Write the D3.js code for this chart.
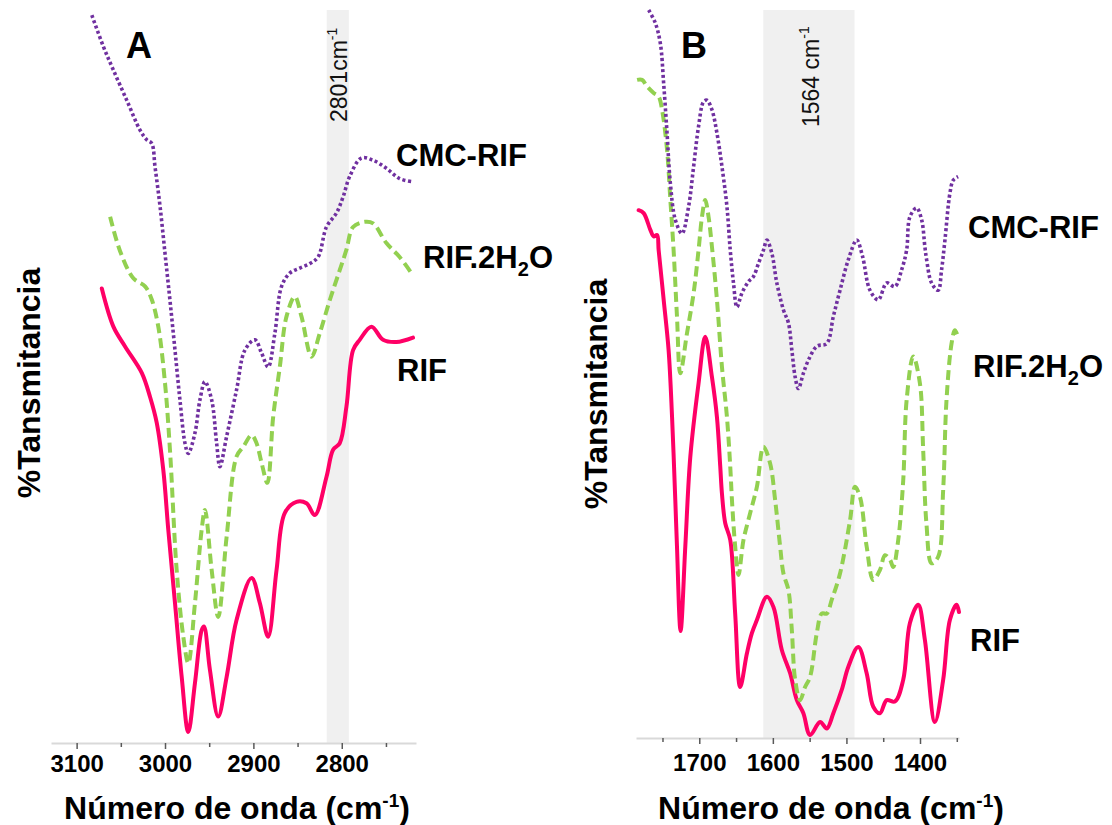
<!DOCTYPE html>
<html><head><meta charset="utf-8">
<script src="https://cdn.jsdelivr.net/npm/d3@7"></script>
<style>body{margin:0;background:#fff} svg{display:block} text{font-family:"Liberation Sans",Arial,sans-serif}</style>
</head><body><svg id="c" width="1112" height="825"></svg>
<script>
// ---------- Panel A (C-H region) ----------
const wnA_RIF = [3071.5,3058.4,3045.2,3026.3,3016.9,3009.4,3001.9,2996.3,2988.7,2981.1,2973.7,2966.1,2958.5,2955.9,2949.2,2939.8,2930.3,2919.0,2902.0,2892.7,2883.3,2873.8,2864.4,2851.2,2839.9,2830.5,2817.3,2809.8,2802.3,2794.7,2787.2,2779.7,2766.4,2753.3,2738.2,2719.4];
const tA_RIF = [62.0,56.8,54.1,50.5,47.2,43.7,37.2,29.1,19.1,9.0,1.5,8.2,15.4,15.9,10.0,3.6,9.0,16.8,22.5,19.1,14.5,23.6,31.4,32.9,32.7,31.1,36.3,40.0,40.9,45.9,53.6,55.0,56.8,55.0,54.7,55.3];
const wnA_H2O = [3062.1,3050.8,3035.8,3022.6,3015.0,3007.6,3000.0,2994.4,2986.8,2979.3,2973.7,2966.1,2958.5,2954.8,2947.2,2939.8,2930.3,2919.0,2911.5,2902.0,2896.4,2890.7,2884.2,2877.6,2870.1,2862.5,2853.1,2845.6,2834.2,2824.9,2813.6,2802.3,2794.7,2787.2,2774.0,2764.6,2749.5,2734.5,2719.4];
const tA_H2O = [71.8,67.1,63.4,62.3,60.5,56.8,49.1,40.0,23.6,14.5,10.9,19.1,29.1,31.8,23.6,17.2,28.1,39.1,40.4,42.0,40.9,38.2,35.5,44.5,51.3,58.2,60.9,58.2,52.7,55.9,60.4,64.5,67.3,70.4,71.1,70.9,68.2,66.3,63.8];
const wnA_CMC = [3082.8,3069.7,3058.4,3043.3,3028.2,3020.7,3015.0,3011.3,3005.6,3000.0,2994.4,2988.7,2983.1,2977.4,2973.7,2966.1,2960.5,2954.8,2947.2,2941.6,2937.9,2930.3,2919.0,2909.6,2898.3,2890.7,2883.3,2875.7,2868.1,2858.8,2847.5,2836.2,2826.8,2817.3,2806.0,2798.5,2791.0,2777.8,2764.6,2749.5,2734.5,2721.2];
const tA_CMC = [99.3,95.0,91.8,87.7,83.6,82.3,81.8,78.6,73.2,66.8,60.4,53.6,46.8,40.9,39.5,42.3,46.8,49.3,46.8,40.9,37.7,41.8,48.2,53.6,55.0,53.2,51.3,55.9,62.3,64.1,64.8,65.4,66.3,70.4,72.3,74.5,77.3,79.8,79.5,78.4,77.0,76.6];
const ticksA = [3100,3000,2900,2800];
const minorA = [3050,2950,2850,2750];
const bandA = [2817,2792];

// ---------- Panel B (fingerprint region) ----------
const wnB_RIF = [1782.4,1775.6,1766.5,1762.0,1757.4,1755.2,1748.4,1741.7,1737.0,1732.6,1730.3,1725.4,1719.0,1712.2,1701.0,1691.9,1682.8,1676.0,1671.5,1669.2,1664.7,1657.9,1651.2,1644.4,1635.3,1628.5,1621.7,1608.1,1599.2,1587.8,1576.5,1567.4,1558.5,1549.4,1535.8,1526.7,1517.8,1506.4,1497.4,1483.9,1472.5,1463.5,1454.4,1445.3,1434.1,1422.8,1413.7,1402.4,1393.4,1379.8,1368.5,1359.4,1350.3,1347.0];
const tB_RIF = [72.5,72.1,69.8,68.9,69.1,67.0,60.2,53.3,44.1,32.7,26.3,14.7,26.3,38.6,48.7,55.1,49.6,44.1,37.3,33.6,29.5,27.2,17.1,7.0,11.6,14.4,16.2,19.4,18.0,12.1,8.9,5.2,3.4,0.4,2.2,1.3,3.4,6.6,9.8,12.5,8.9,4.3,3.4,5.2,5.0,8.0,15.8,18.3,13.5,2.2,8.0,16.2,18.3,17.3];
const wnB_H2O = [1784.5,1777.7,1771.0,1762.0,1755.2,1750.6,1743.8,1739.3,1734.9,1730.3,1725.8,1716.7,1707.7,1701.0,1696.3,1691.9,1687.4,1682.8,1676.0,1669.2,1662.4,1657.9,1655.6,1651.2,1646.7,1639.9,1630.8,1621.7,1612.8,1603.7,1596.9,1590.1,1585.6,1578.8,1574.2,1569.7,1563.0,1556.2,1549.4,1540.3,1533.5,1526.7,1519.9,1508.7,1495.1,1488.3,1481.5,1472.5,1463.5,1454.4,1447.6,1440.8,1436.4,1429.6,1422.8,1418.2,1409.2,1400.1,1395.7,1391.3,1384.3,1375.3,1368.5,1364.0,1357.1,1352.6,1348.2];
const tB_H2O = [90.4,90.4,89.5,88.6,88.1,86.3,80.8,73.9,67.0,57.9,50.1,55.6,61.1,67.0,71.6,73.9,71.6,67.5,60.2,51.0,44.1,37.3,32.7,26.3,22.4,27.2,30.9,34.5,40.0,37.7,32.7,26.3,22.6,20.3,14.8,8.0,5.2,7.0,8.4,14.4,17.1,17.1,19.0,22.6,29.9,34.5,33.1,26.3,21.7,23.1,25.1,24.5,23.5,27.2,35.4,46.4,52.4,48.7,39.6,29.5,24.0,24.9,34.1,46.4,54.2,56.0,55.1];
const wnB_CMC = [1768.8,1759.7,1752.9,1748.4,1743.8,1739.3,1732.6,1723.5,1714.5,1707.7,1701.0,1694.2,1689.6,1682.8,1676.0,1669.2,1662.4,1657.9,1653.5,1648.8,1642.1,1633.1,1626.3,1619.5,1612.8,1608.1,1601.4,1594.6,1585.6,1578.8,1574.2,1569.7,1565.3,1558.5,1551.7,1540.3,1526.7,1517.8,1508.7,1497.4,1486.0,1478.2,1468.0,1456.7,1445.3,1434.1,1425.0,1418.2,1413.7,1404.6,1397.8,1393.4,1391.0,1384.3,1375.3,1370.7,1366.2,1359.4,1354.9,1348.2];
const tB_CMC = [100.0,98.2,95.4,89.9,83.1,76.2,71.2,69.3,73.0,78.5,84.0,87.4,87.6,86.3,83.1,78.5,73.0,67.0,62.5,59.2,61.1,62.7,63.4,65.2,67.0,68.4,66.6,62.5,58.8,57.0,53.3,49.6,48.0,50.1,51.9,53.8,54.2,57.9,61.5,65.7,68.4,66.2,61.5,60.2,62.5,62.0,64.3,67.0,71.6,72.8,71.2,67.5,65.7,62.5,61.5,64.3,68.3,74.8,76.6,77.1];
const ticksB = [1700,1600,1500,1400];
const minorB = [1750,1650,1550,1450,1350];
const bandB = [1613,1489];

const seriesNames = ["CMC-RIF","RIF.2H2O","RIF"];
const xTitle = "Número de onda (cm";
const yTitle = "%Tansmitancia";

const svg = d3.select("#c");
const colRIF = "#ff0066", colH2O = "#92d050", colCMC = "#7030a0";

function panel(cfg){
  const x = d3.scaleLinear().domain(cfg.xdom).range(cfg.xr);
  const y = d3.scaleLinear().domain([0,100]).range([cfg.y0, 10]);
  const g = svg.append("g");
  // band
  g.append("rect").attr("x", x(cfg.band[0])).attr("width", x(cfg.band[1]) - x(cfg.band[0]))
    .attr("y", 10).attr("height", cfg.y0 - 10).attr("fill", "#f0f0f0");
  // axis
  const ax = g.append("g").attr("transform", `translate(0,${cfg.y0})`)
    .call(d3.axisBottom(x).tickValues(cfg.ticks).tickFormat(d3.format("d")).tickSize(6).tickSizeOuter(0).tickPadding(cfg.pad));
  ax.select(".domain").attr("stroke", "#d9d9d9").attr("stroke-width", 2);
  ax.selectAll(".tick line").attr("stroke", "#595959").attr("stroke-width", 1.5);
  ax.selectAll(".tick text").attr("font-size", 24).attr("font-weight", "bold").attr("fill", "#000")
    .attr("font-family", '"Liberation Sans", Arial, sans-serif');
  const mx = g.append("g").attr("transform", `translate(0,${cfg.y0})`)
    .call(d3.axisBottom(x).tickValues(cfg.minor).tickFormat("").tickSize(4).tickSizeOuter(0));
  mx.select(".domain").remove();
  mx.selectAll(".tick line").attr("stroke", "#595959").attr("stroke-width", 1.5);

  const line = d3.line().x(d => x(d[0])).y(d => y(d[1])).curve(d3.curveCatmullRom.alpha(0.5));
  const zip = (a,b) => a.map((v,i)=>[v,b[i]]);
  g.append("path").datum(zip(cfg.wnRIF, cfg.tRIF)).attr("d", line).attr("fill","none")
    .attr("stroke", colRIF).attr("stroke-width", 4).attr("stroke-linejoin","round").attr("stroke-linecap","round");
  g.append("path").datum(zip(cfg.wnH2O, cfg.tH2O)).attr("d", line).attr("fill","none")
    .attr("stroke", colH2O).attr("stroke-width", 4).attr("stroke-dasharray","10,5");
  g.append("path").datum(zip(cfg.wnCMC, cfg.tCMC)).attr("d", line).attr("fill","none")
    .attr("stroke", colCMC).attr("stroke-width", 3.6).attr("stroke-dasharray","3,2.6");

  // band label
  const bl = g.append("text").attr("transform", `translate(${cfg.blx},${cfg.bly}) rotate(-90)`)
    .attr("font-size", 23).attr("fill", "#111");
  bl.append("tspan").text(cfg.bandText);
  bl.append("tspan").attr("font-size", 14).attr("dy", -10).text("-1");

  // panel letter
  g.append("text").attr("x", cfg.lx).attr("y", 58).attr("font-size", 36).attr("font-weight","bold").text(cfg.letter);

  // series labels
  cfg.labels.forEach((p,i) => {
    const t = g.append("text").attr("x", p[0]).attr("y", p[1]).attr("font-size", 31).attr("font-weight","bold");
    if (seriesNames[i] === "RIF.2H2O") {
      t.append("tspan").text("RIF.2H");
      t.append("tspan").attr("font-size", 20).attr("dy", 8).text("2");
      t.append("tspan").attr("dy", -8).text("O");
    } else t.text(seriesNames[i]);
  });

  // x title
  const xt = g.append("text").attr("x", cfg.xtx).attr("y", 819).attr("text-anchor","middle")
    .attr("font-size", 32).attr("font-weight","bold");
  xt.append("tspan").text(xTitle);
  xt.append("tspan").attr("font-size", 19).attr("dy", -12).text("-1");
  xt.append("tspan").attr("dy", 12).text(")");

  // y title
  g.append("text").attr("transform", `translate(${cfg.ytx},${cfg.yty}) rotate(-90)`).attr("text-anchor","middle")
    .attr("font-size", 32).attr("font-weight","bold").text(yTitle);
}

panel({xdom:[3129,2716], xr:[51,416], y0:743, pad:6, ticks:ticksA, minor:minorA, band:bandA,
  wnRIF:wnA_RIF, tRIF:tA_RIF, wnH2O:wnA_H2O, tH2O:tA_H2O, wnCMC:wnA_CMC, tCMC:tA_CMC,
  blx:346.5, bly:122, bandText:"2801cm", lx:126, letter:"A",
  labels:[[396,166],[423,268],[397,381]], xtx:237, ytx:40, yty:383});
panel({xdom:[1786,1347], xr:[636,959], y0:738, pad:10, ticks:ticksB, minor:minorB, band:bandB,
  wnRIF:wnB_RIF, tRIF:tB_RIF, wnH2O:wnB_H2O, tH2O:tB_H2O, wnCMC:wnB_CMC, tCMC:tB_CMC,
  blx:819, bly:127, bandText:"1564 cm", lx:681, letter:"B",
  labels:[[968,238],[973,377],[970,651]], xtx:831, ytx:607, yty:394});
</script></body></html>
